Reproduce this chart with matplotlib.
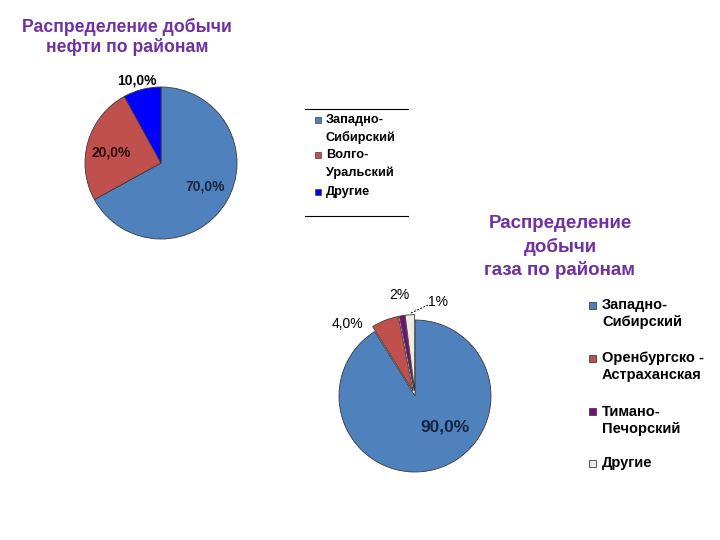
import matplotlib
matplotlib.use("Agg")
import matplotlib.pyplot as plt
from matplotlib.lines import Line2D
from matplotlib.patches import Rectangle
import numpy as np

plt.rcParams['font.family'] = ['Liberation Sans', 'DejaVu Sans']

# ---- data ----
oil_regions = ["Западно-\nСибирский", "Волго-\nУральский", "Другие"]
oil_values = [67, 25, 8]            # slice sizes as drawn
oil_labels = ["70,0%", "20,0%", "10,0%"]
oil_colors = ["#4F81BD", "#C0504D", "#0000FF"]

gas_regions = ["Западно-\nСибирский", "Оренбургско -\nАстраханская", "Тимано-\nПечорский", "Другие"]
gas_values = [91.1, 5.8, 1.1, 2.0]  # slice sizes as drawn
gas_labels = ["90,0%", "4,0%", "2%", "1%"]
gas_colors = ["#4F81BD", "#C0504D", "#7B0A7B", "#EEECE1"]

W, H = 720, 540
fig = plt.figure(figsize=(7.2, 5.4), dpi=100)
purple = "#7030A0"

def axes_px(cx, cy, half):
    return fig.add_axes([(cx - half) / W, (H - cy - half) / H, 2 * half / W, 2 * half / H])

R = 76
def px2d(ax_c, px, py):
    cx, cy = ax_c
    return ((px - cx) / R, (cy - py) / R)

# ---- oil pie ----
ax1 = axes_px(161, 163, R)
ax1.pie(oil_values, colors=oil_colors, startangle=90, counterclock=False,
        wedgeprops=dict(edgecolor="#3a3a3a", linewidth=0.6))
ax1.set_xlim(-1, 1); ax1.set_ylim(-1, 1); ax1.axis("off")
oc = (161, 163)
ax1.text(*px2d(oc, 137, 81), oil_labels[2], ha="center", va="center",
         fontsize=10, fontweight="bold", color="black")
ax1.text(*px2d(oc, 111, 153), oil_labels[1], ha="center", va="center",
         fontsize=10, fontweight="bold", color="#2a0a0a")
ax1.text(*px2d(oc, 205, 187), oil_labels[0], ha="center", va="center",
         fontsize=10, fontweight="bold", color="#1a2440")

fig.text(127 / W, 1 - 27 / H, "Распределение добычи", ha="center", va="center",
         fontsize=12.7, fontweight="bold", color=purple)
fig.text(127 / W, 1 - 47 / H, "нефти по районам", ha="center", va="center",
         fontsize=12.7, fontweight="bold", color=purple)

# oil legend
fig.add_artist(Line2D([305 / W, 408 / W], [1 - 109 / H, 1 - 109 / H], color="black", lw=0.8))
fig.add_artist(Line2D([305 / W, 408 / W], [1 - 216 / H, 1 - 216 / H], color="black", lw=0.8))
entry_y = [120, 155, 192]
for name, col, y0 in zip(oil_regions, oil_colors, entry_y):
    fig.add_artist(Rectangle(((318 - 3) / W, 1 - (y0 + 3) / H), 6 / W, 6 / H,
                             facecolor=col, edgecolor="#404040", lw=0.5))
    for k, line in enumerate(name.split("\n")):
        fig.text(326 / W, 1 - (y0 + 17.5 * k) / H, line, ha="left", va="center",
                 fontsize=9.2, fontweight="bold", color="black")

# ---- gas pie ----
half = 100
ax2 = axes_px(415, 396, half)
ax2.pie(gas_values, colors=gas_colors, startangle=90, counterclock=False,
        explode=[0, 0.07, 0.07, 0.07],
        wedgeprops=dict(edgecolor="#3a3a3a", linewidth=0.6))
lim = half / R
ax2.set_xlim(-lim, lim); ax2.set_ylim(-lim, lim); ax2.axis("off")
gc = (415, 396)
ax2.text(*px2d(gc, 445, 427), gas_labels[0], ha="center", va="center",
         fontsize=12.5, fontweight="bold", color="#17253f")
ax2.text(*px2d(gc, 347, 324), gas_labels[1], ha="center", va="center",
         fontsize=10, color="black")
ax2.text(*px2d(gc, 399, 295), gas_labels[2], ha="center", va="center",
         fontsize=10, color="black")
ax2.text(*px2d(gc, 438, 302), gas_labels[3], ha="center", va="center",
         fontsize=10, color="black")
ax2.plot(*zip(px2d(gc, 411, 313), px2d(gc, 428, 305)), color="black", lw=0.7,
         linestyle=(0, (2, 1.5)))

for k, line in enumerate(["Распределение", "добычи", "газа по районам"]):
    fig.text(560 / W, 1 - (223 + 23.5 * k) / H, line, ha="center", va="center",
             fontsize=13.5, fontweight="bold", color=purple)

entry_y = [305, 358, 411.5, 463]
for name, col, y0 in zip(gas_regions, gas_colors, entry_y):
    fig.add_artist(Rectangle(((592 - 3.5) / W, 1 - (y0 + 3.5) / H), 7 / W, 7 / H,
                             facecolor=col, edgecolor="#404040", lw=0.6))
    for k, line in enumerate(name.split("\n")):
        fig.text(602 / W, 1 - (y0 + 17 * k) / H, line, ha="left", va="center",
                 fontsize=10.5, fontweight="bold", color="black")

fig.savefig("out.png", dpi=100)
